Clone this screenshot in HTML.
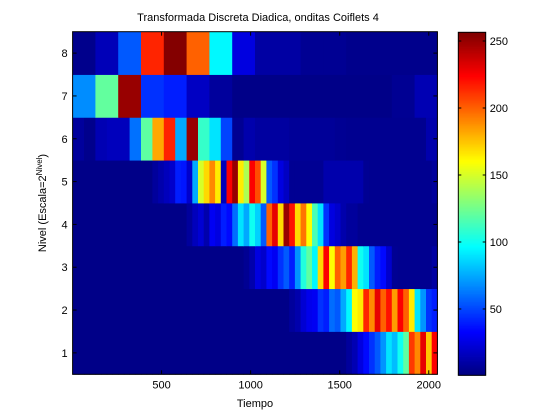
<!DOCTYPE html>
<html><head><meta charset="utf-8"><style>
body{margin:0;background:#fff;}
svg{display:block;font-family:"Liberation Sans",sans-serif;}
</style></head><body>
<svg id="chart" width="560" height="420">
<rect x="0" y="0" width="560" height="420" fill="#fff"/>
<g id="cells"></g>
<g id="cbar"></g>
<g id="axes"></g>
<text x="258" y="21" font-size="11" text-anchor="middle">Transformada Discreta Diadica, onditas Coiflets 4</text>
<text x="255" y="407" font-size="11" text-anchor="middle">Tiempo</text>
<text transform="translate(46,203) rotate(-90)" font-size="11" text-anchor="middle">Nivel (Escala=2<tspan dy="-4" font-size="8">Nivel</tspan><tspan dy="4">)</tspan></text>
</svg>
<script>
const xTicks=[500,1000,1500,2000];
const yTicks=[1,2,3,4,5,6,7,8];
const cTicks=[50,100,150,200,250];
const level8=[4,15,55,215,255,200,95,25,10,10,6,6,4,4,4,4];
const level7=[68,121,250,45,40,18,8,3,3,3,3,3,3,3,6,14];
const level6=[8,4,14,16,16,61,120,182,216,75,250,110,90,50,6,12,9,9,9,7,7,7,7,6,5,5,5,5,5,5,5,12];
const level5=[3,3,3,3,3,3,3,3,3,3,3,3,3,3,8,12,16,20,40,38,20,75,150,170,190,165,15,225,250,165,140,225,205,150,55,45,25,18,6,6,6,6,6,6,12,12,12,12,12,12,12,6,5,5,5,5,5,5,5,5,5,5,5,8];
const level4=[3,3,3,3,3,3,3,3,3,3,3,3,3,3,3,3,3,3,3,3,8,16,22,12,30,25,40,35,60,90,75,100,85,55,200,230,170,250,220,170,195,160,115,90,45,25,20,12,8,8,5,5,5,5,5,5,5,5,5,5,5,5,5,5];
const level3=[3,3,3,3,3,3,3,3,3,3,3,3,3,3,3,3,3,3,3,3,3,3,3,3,3,3,3,3,3,3,6,12,25,20,35,30,45,55,40,70,105,120,95,170,225,160,200,185,215,180,100,90,55,40,35,20,6,5,5,5,5,5,5,10];
const level2=[3,3,3,3,3,3,3,3,3,3,3,3,3,3,3,3,3,3,3,3,3,3,3,3,3,3,3,3,3,3,3,3,3,3,3,3,3,3,8,12,22,28,30,45,40,60,55,75,95,160,165,215,190,230,200,220,185,225,200,165,90,70,45,40];
const level1=[3,3,3,3,3,3,3,3,3,3,3,3,3,3,3,3,3,3,3,3,3,3,3,3,3,3,3,3,3,3,3,3,3,3,3,3,3,3,3,3,3,3,3,3,3,3,3,3,8,14,25,35,45,55,70,90,80,100,120,210,190,230,175,225];
const levels=[level1,level2,level3,level4,level5,level6,level7,level8];
const NS='http://www.w3.org/2000/svg';
const PL=72.6,PR=437.4,PT=31.7,PB=374.3;
const N=2048;
function xs(t){return PL+(t-0.5)/N*(PR-PL);}
function ys(l){return PB-(l-0.5)/8*(PB-PT);}
const CL=458.3,CR=485.7,CT=32.3,CB=375.3;
function cs(v){return CB-(v-0.5)/256*(CB-CT);}
function cl(a){return Math.max(0,Math.min(1,a));}
function jet(v){const t=(v-1)/255;const r=cl(1.5-Math.abs(4*t-3)),g=cl(1.5-Math.abs(4*t-2)),b=cl(1.5-Math.abs(4*t-1));return 'rgb('+Math.round(r*255)+','+Math.round(g*255)+','+Math.round(b*255)+')';}
function mk(tag,attrs,parent){const e=document.createElementNS(NS,tag);for(const k in attrs)e.setAttribute(k,attrs[k]);parent.appendChild(e);return e;}
const cells=document.getElementById('cells');
levels.forEach((arr,i)=>{
  const lev=i+1;const w=N/arr.length;
  arr.forEach((v,j)=>{
    const x0=xs(j*w+0.5),x1=xs((j+1)*w+0.5);
    const r=mk('rect',{x:x0,y:ys(lev+0.5),width:x1-x0+0.4,height:ys(lev-0.5)-ys(lev+0.5)+0.4,fill:jet(v)},cells);
    
    
  });
});
const cbar=document.getElementById('cbar');
for(let v=1;v<=256;v++){
  const r=mk('rect',{x:CL,y:cs(v+0.5),width:CR-CL,height:cs(v-0.5)-cs(v+0.5)+0.4,fill:jet(v)},cbar);
  
  
}
const cf=mk('rect',{x:CL,y:CT,width:CR-CL,height:CB-CT,fill:'none',stroke:'#000','stroke-width':1},cbar);


cTicks.forEach(v=>{
  const y=cs(v);
  mk('line',{x1:CL,x2:CL+3,y1:y,y2:y,stroke:'#000'},cbar);
  mk('line',{x1:CR,x2:CR-3,y1:y,y2:y,stroke:'#000'},cbar);
  const t=mk('text',{x:CR+4,y:y+4,'font-size':11},cbar);t.textContent=v;
  
  
});
const ax=document.getElementById('axes');
const fr=mk('rect',{x:PL,y:PT,width:PR-PL,height:PB-PT,fill:'none',stroke:'#000','stroke-width':1},ax);


xTicks.forEach(v=>{
  const x=xs(v);
  mk('line',{x1:x,x2:x,y1:PB,y2:PB-4,stroke:'#000'},ax);
  mk('line',{x1:x,x2:x,y1:PT,y2:PT+4,stroke:'#000'},ax);
  const t=mk('text',{x:x,y:PB+14,'font-size':11,'text-anchor':'middle'},ax);t.textContent=v;
  
  
});
yTicks.forEach(v=>{
  const y=ys(v);
  mk('line',{x1:PL,x2:PL+4,y1:y,y2:y,stroke:'#000'},ax);
  mk('line',{x1:PR,x2:PR-4,y1:y,y2:y,stroke:'#000'},ax);
  const t=mk('text',{x:PL-5,y:y+4,'font-size':11,'text-anchor':'end'},ax);t.textContent=v;
  
  
});
</script>
</body></html>
